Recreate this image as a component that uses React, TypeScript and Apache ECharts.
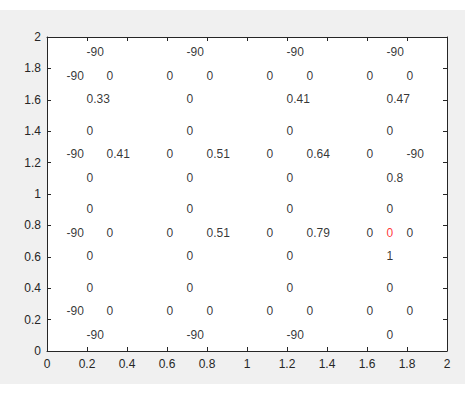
import React, { useEffect, useRef } from "react";
import * as echarts from "echarts";

// Grid-world Q-values shown as text labels, four per cell
const cellCentersX = [0.25, 0.75, 1.25, 1.75];
const cellCentersY = [1.75, 1.25, 0.75, 0.25];

const upQ = [
  [-90, -90, -90, -90],
  [0, 0, 0, 0],
  [0, 0, 0, 0],
  [0, 0, 0, 0],
];
const leftQ = [
  [-90, 0, 0, 0],
  [-90, 0, 0, 0],
  [-90, 0, 0, 0],
  [-90, 0, 0, 0],
];
const rightQ = [
  [0, 0, 0, 0],
  [0.41, 0.51, 0.64, -90],
  [0, 0.51, 0.79, 0],
  [0, 0, 0, 0],
];
const downQ = [
  [0.33, 0, 0.41, 0.47],
  [0, 0, 0, 0.8],
  [0, 0, 0, 1],
  [-90, -90, -90, 0],
];
const agentPoint = [1.7, 0.75];
const agentLabel = "0";

const xTicks = [0, 0.2, 0.4, 0.6, 0.8, 1, 1.2, 1.4, 1.6, 1.8, 2];
const yTicks = [0, 0.2, 0.4, 0.6, 0.8, 1, 1.2, 1.4, 1.6, 1.8, 2];

// label placement relative to cell centre (data units)
const OFFSETS = {
  up: [-0.05, 0.15],
  left: [-0.15, 0],
  right: [0.05, 0],
  down: [-0.05, -0.15],
};

export default function App() {
  const ref = useRef<HTMLDivElement>(null);
  useEffect(() => {
    if (!ref.current) return;
    const chart = echarts.init(ref.current, null, { renderer: "svg" });
    const pts: any[] = [];
    const add = (grid: number[][], off: number[]) => {
      grid.forEach((row, r) =>
        row.forEach((v, c) => {
          pts.push({
            value: [cellCentersX[c] + off[0], cellCentersY[r] + off[1]],
            text: String(v),
          });
        })
      );
    };
    add(upQ, OFFSETS.up);
    add(leftQ, OFFSETS.left);
    add(rightQ, OFFSETS.right);
    add(downQ, OFFSETS.down);

    const font = "'Liberation Sans', Arial, Helvetica, sans-serif";
    const axisColor = "#262626";
    const common = {
      min: 0,
      max: 2,
      interval: 0.2,
      splitLine: { show: false },
    };
    const labelBase = {
      show: true,
      position: [0, 0],
      align: "left",
      verticalAlign: "middle",
      fontSize: 12,
      fontFamily: font,
      formatter: (p: any) => p.data.text,
    };
    chart.setOption({
      animation: false,
      backgroundColor: "#ffffff",
      graphic: [
        {
          type: "rect",
          z: -10,
          silent: true,
          shape: { x: 0, y: 10, width: 465, height: 374 },
          style: { fill: "#f0f0f0" },
        },
        {
          type: "rect",
          z: -9,
          silent: true,
          shape: { x: 47, y: 37, width: 400, height: 314 },
          style: { fill: "#ffffff" },
        },
      ],
      grid: { left: 47, top: 37, width: 400, height: 314, containLabel: false },
      xAxis: [
        {
          ...common,
          type: "value",
          position: "bottom",
          axisLine: { show: true, onZero: false, lineStyle: { color: axisColor, width: 1 } },
          axisTick: { show: true, inside: true, length: 4, lineStyle: { color: axisColor } },
          axisLabel: {
            show: true,
            margin: 7,
            color: axisColor,
            fontSize: 12,
            fontFamily: font,
            formatter: (v: number) => String(xTicks.find((t) => Math.abs(t - v) < 1e-9) ?? v),
          },
        },
        {
          ...common,
          type: "value",
          position: "top",
          axisLine: { show: true, onZero: false, lineStyle: { color: axisColor, width: 1 } },
          axisTick: { show: true, inside: true, length: 4, lineStyle: { color: axisColor } },
          axisLabel: { show: false },
        },
      ],
      yAxis: [
        {
          ...common,
          type: "value",
          position: "left",
          axisLine: { show: true, onZero: false, lineStyle: { color: axisColor, width: 1 } },
          axisTick: { show: true, inside: true, length: 4, lineStyle: { color: axisColor } },
          axisLabel: {
            show: true,
            margin: 6,
            color: axisColor,
            fontSize: 12,
            fontFamily: font,
            padding: [3, 0, 0, 0],
            formatter: (v: number) => String(yTicks.find((t) => Math.abs(t - v) < 1e-9) ?? v),
          },
        },
        {
          ...common,
          type: "value",
          position: "right",
          axisLine: { show: true, onZero: false, lineStyle: { color: axisColor, width: 1 } },
          axisTick: { show: true, inside: true, length: 4, lineStyle: { color: axisColor } },
          axisLabel: { show: false },
        },
      ],
      series: [
        {
          type: "scatter",
          xAxisIndex: 0,
          yAxisIndex: 0,
          symbol: "circle",
          symbolSize: 1,
          itemStyle: { color: "rgba(0,0,0,0)" },
          data: pts,
          label: { ...labelBase, color: "#000000" },
        },
        {
          type: "scatter",
          xAxisIndex: 0,
          yAxisIndex: 0,
          symbol: "circle",
          symbolSize: 1,
          itemStyle: { color: "rgba(0,0,0,0)" },
          data: [{ value: agentPoint, text: agentLabel }],
          label: { ...labelBase, color: "#ff0000" },
        },
      ],
    });
    return () => chart.dispose();
  }, []);
  return (
    <div
      ref={ref}
      style={{ position: "fixed", left: 0, top: 0, width: 468, height: 399 }}
    />
  );
}
